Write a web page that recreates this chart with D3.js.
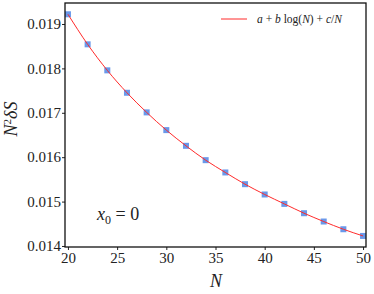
<!DOCTYPE html>
<html>
<head>
<meta charset="utf-8">
<script src="https://cdn.jsdelivr.net/npm/d3@7"></script>
<style>
  body { margin: 0; background: #fff; }
</style>
</head>
<body>
<div id="chart"></div>
<script>
// data
var sizes = [20, 22, 24, 26, 28, 30, 32, 34, 36, 38, 40, 42, 44, 46, 48, 50];
var values = [0.019219, 0.018542, 0.017956, 0.017451, 0.017009, 0.016610, 0.016256, 0.015933,
              0.015656, 0.015392, 0.015160, 0.014948, 0.014738, 0.014551, 0.014377, 0.014226];
var xTicks = [20, 25, 30, 35, 40, 45, 50];
var yTicks = [0.014, 0.015, 0.016, 0.017, 0.018, 0.019];

var W = 374, H = 294;
var margin = {left: 65, right: 366, top: 3, bottom: 247};
var serif = 'Liberation Serif';

var x = d3.scaleLinear().domain([19.7, 50.3]).range([margin.left, margin.right]);
var y = d3.scaleLinear().domain([0.013977, 0.019473]).range([margin.bottom, margin.top]);

var nodes = sizes.map(function(n, i) { return {n: n, v: values[i]}; });

var svg = d3.select('#chart').append('svg')
    .attr('width', W)
    .attr('height', H);

// fit line through the points
var fitline = d3.line()
    .curve(d3.curveMonotoneX)
    .x(function(d) { return x(d.n); })
    .y(function(d) { return y(d.v); });

// markers
svg.append('g').selectAll('rect')
    .data(nodes)
    .enter().append('rect')
    .attr('x', function(d) { return x(d.n) - 3; })
    .attr('y', function(d) { return y(d.v) - 3; })
    .attr('width', 6)
    .attr('height', 6)
    .attr('fill', '#4f86e6')
    .attr('fill-opacity', 0.85);

svg.append('path')
    .datum(nodes)
    .attr('fill', 'none')
    .attr('stroke', '#ff2a2a')
    .attr('stroke-width', 1)
    .attr('d', fitline);

// axes
var xAxis = svg.append('g')
    .attr('transform', 'translate(0,' + margin.bottom + ')')
    .call(d3.axisBottom(x).tickValues(xTicks).tickSize(3).tickPadding(2));
var yAxis = svg.append('g')
    .attr('transform', 'translate(' + margin.left + ',0)')
    .call(d3.axisLeft(y).tickValues(yTicks).tickSize(3).tickPadding(1).tickFormat(d3.format('.3f')));

[xAxis, yAxis].forEach(function(a) {
    a.attr('font-family', serif);
    a.select('.domain').remove();
    a.selectAll('text').attr('font-size', 15).attr('fill', '#222').attr('font-family', serif);
    a.selectAll('line').attr('stroke', '#222');
});

// frame
svg.append('rect')
    .attr('x', margin.left).attr('y', margin.top)
    .attr('width', margin.right - margin.left).attr('height', margin.bottom - margin.top)
    .attr('fill', 'none')
    .attr('stroke', '#111')
    .attr('stroke-width', 1.3);

// labels
svg.append('text')
    .attr('transform', 'translate(17,119) rotate(-90)')
    .attr('text-anchor', 'middle')
    .attr('font-family', serif)
    .attr('font-size', 18)
    .attr('fill', '#222')
    .html('<tspan font-style="italic">N</tspan><tspan dy="-6" font-size="11">2</tspan><tspan dy="6" font-style="italic">δS</tspan>');

svg.append('text')
    .attr('x', 216).attr('y', 287)
    .attr('text-anchor', 'middle')
    .attr('font-family', serif)
    .attr('font-size', 18)
    .attr('font-style', 'italic')
    .attr('fill', '#222')
    .text('N');

svg.append('text')
    .attr('x', 97).attr('y', 220)
    .attr('font-family', serif)
    .attr('font-size', 18)
    .attr('fill', '#222')
    .html('<tspan font-style="italic">x</tspan><tspan dy="4" font-size="12">0</tspan><tspan dy="-4"> = 0</tspan>');

// legend
svg.append('line')
    .attr('x1', 221).attr('x2', 247)
    .attr('y1', 19).attr('y2', 19)
    .attr('stroke', '#ff2a2a')
    .attr('stroke-width', 1);
svg.append('text')
    .attr('x', 257).attr('y', 23)
    .attr('font-family', serif)
    .attr('font-size', 11.5)
    .attr('fill', '#222')
    .html('<tspan font-style="italic">a</tspan> + <tspan font-style="italic">b</tspan> log(<tspan font-style="italic">N</tspan>) + <tspan font-style="italic">c</tspan>/<tspan font-style="italic">N</tspan>');
</script>
</body>
</html>
